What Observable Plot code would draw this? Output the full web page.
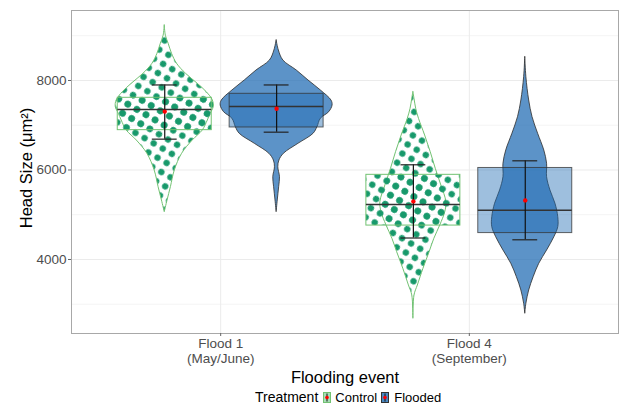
<!DOCTYPE html>
<html><head><meta charset="utf-8">
<script src="https://cdn.jsdelivr.net/npm/d3@7"></script>
<script src="https://cdn.jsdelivr.net/npm/@observablehq/plot@0.6"></script>
<style>
body{margin:0;background:#fff;font-family:"Liberation Sans",Arial,sans-serif;}
#chart svg{display:block;}
#legend{position:relative;height:18px;width:622px;font-size:13px;color:#000;}
#legend .row{position:absolute;left:255px;top:2px;display:flex;align-items:center;white-space:nowrap;line-height:15px;}
#legend svg{display:block;}
</style></head><body>
<div id="chart"></div>
<div id="legend"></div>
<script>
// ---- data ----
const floods = ["Flood 1\n(May/June)", "Flood 4\n(September)"];
const treatments = ["Control", "Flooded"];
const yTicks = [4000, 6000, 8000];
const yMinor = [3000, 5000, 7000, 9000];

// violin outlines: head size (µm²) and relative half-width (density)
const f1ControlSize  = [9229, 9000, 8820, 8597, 8373, 8150, 7926, 7739, 7553, 7404, 7255, 7106, 6883, 6659, 6362, 5989, 5616, 5318, 5057];
const f1ControlWidth = [0, 0.02, 0.07, 0.13, 0.22, 0.38, 0.59, 0.75, 0.86, 0.875, 0.82, 0.77, 0.68, 0.50, 0.31, 0.18, 0.11, 0.05, 0];
const f1FloodedSize  = [8894, 8670, 8447, 8223, 8000, 7777, 7553, 7441, 7292, 7144, 6957, 6809, 6585, 6362, 6212, 6063, 5839, 5616, 5318, 5057];
const f1FloodedWidth = [0, 0.04, 0.12, 0.36, 0.57, 0.79, 0.98, 1, 0.94, 0.79, 0.73, 0.66, 0.39, 0.13, 0.05, 0.03, 0.06, 0.045, 0.02, 0];
const f4ControlSize  = [7739, 7591, 7368, 7144, 6771, 6398, 6027, 5654, 5280, 5057, 4759, 4463, 4163, 3792, 3419, 3196, 2675];
const f4ControlWidth = [0, 0.02, 0.05, 0.10, 0.21, 0.31, 0.40, 0.50, 0.59, 0.57, 0.48, 0.375, 0.29, 0.18, 0.08, 0.02, 0];
const f4FloodedSize  = [8521, 8074, 7553, 7180, 6809, 6436, 6139, 5839, 5542, 5245, 4945, 4722, 4498, 4201, 3904, 3604, 3307, 3010, 2787];
const f4FloodedWidth = [0, 0.02, 0.07, 0.13, 0.23, 0.34, 0.39, 0.39, 0.45, 0.54, 0.59, 0.59, 0.52, 0.39, 0.25, 0.15, 0.07, 0.02, 0];

// box and summary statistics, order: F1 Control, F1 Flooded, F4 Control, F4 Flooded
const boxQ1     = [6890, 6950, 4758, 4590];
const boxMedian = [7352, 7419, 5229, 5100];
const boxQ3     = [7613, 7702, 5892, 6045];
const meanValue = [7305, 7367, 5298, 5320];
const sdLow     = [6689, 6845, 4480, 4440];
const sdHigh    = [7900, 7900, 6116, 6205];

// ---- build tables ----
const dodge = 0.225, boxHalf = 0.189, capHalf = 0.05;
const profiles = [
  [f1ControlSize, f1ControlWidth], [f1FloodedSize, f1FloodedWidth],
  [f4ControlSize, f4ControlWidth], [f4FloodedSize, f4FloodedWidth]
];
const cells = [];
floods.forEach((f, gi) => treatments.forEach((t, ti) => cells.push({flood: f, treatment: t, cx: gi + 1 + (ti === 0 ? -dodge : dodge)})));
const violin = [];
cells.forEach((c, k) => {
  const [s, w] = profiles[k];
  s.forEach((v, i) => violin.push({key: k, treatment: c.treatment, y: v, x1: c.cx - w[i] * dodge, x2: c.cx + w[i] * dodge}));
});
const stats = cells.map((c, k) => ({...c, xl: c.cx - boxHalf, xr: c.cx + boxHalf, cl: c.cx - capHalf, cr: c.cx + capHalf,
  q1: boxQ1[k], median: boxMedian[k], q3: boxQ3[k], mean: meanValue[k], lo: sdLow[k], hi: sdHigh[k]}));
const isC = d => d.treatment === "Control";
const vC = violin.filter(isC), vF = violin.filter(d => !isC(d));
const sC = stats.filter(isC), sF = stats.filter(d => !isC(d));

const green = "#72c272", dotGreen = "#17996b", blue = "#1d6ab3";

const plot = Plot.plot({
  width: 622, height: 388,
  marginLeft: 71, marginRight: 4, marginTop: 10, marginBottom: 55,
  style: {fontFamily: "'Liberation Sans', Arial, sans-serif", background: "#fff"},
  x: {domain: [0.4, 2.6], axis: null},
  y: {domain: [2346, 9564], axis: null},
  marks: [
    Plot.ruleY(yMinor, {stroke: "#f4f4f4", strokeWidth: 1}),
    Plot.ruleY(yTicks, {stroke: "#ebebeb", strokeWidth: 1}),
    Plot.ruleX([1, 2], {stroke: "#ebebeb", strokeWidth: 1}),
    Plot.areaX(vC, {y: "y", x1: "x1", x2: "x2", z: "key", fill: "url(#dots)", stroke: green, strokeWidth: 1, curve: "catmull-rom"}),
    Plot.areaX(vF, {y: "y", x1: "x1", x2: "x2", z: "key", fill: blue, fillOpacity: 0.72, stroke: "#2b2b2b", strokeWidth: 0.8, curve: "catmull-rom"}),
    Plot.rect(sC, {x1: "xl", x2: "xr", y1: "q1", y2: "q3", fill: "url(#dots)", stroke: green, strokeWidth: 1}),
    Plot.rect(sF, {x1: "xl", x2: "xr", y1: "q1", y2: "q3", fill: blue, fillOpacity: 0.43, stroke: "#333", strokeOpacity: 0.75, strokeWidth: 1}),
    Plot.ruleY(stats, {y: "median", x1: "xl", x2: "xr", stroke: "#333", strokeWidth: 1.6}),
    Plot.ruleX(stats, {x: "cx", y1: "lo", y2: "hi", stroke: "#111", strokeWidth: 1.2}),
    Plot.ruleY(stats, {y: "lo", x1: "cl", x2: "cr", stroke: "#222", strokeWidth: 1.2}),
    Plot.ruleY(stats, {y: "hi", x1: "cl", x2: "cr", stroke: "#222", strokeWidth: 1.2}),
    Plot.dot(stats, {x: "cx", y: "mean", r: 2.2, fill: "red", stroke: "none"}),
    Plot.frame({stroke: "#a8a8a8", strokeWidth: 1}),
    Plot.axisY(yTicks, {tickSize: 3, tickPadding: 2, fontSize: 13.5, color: "#4d4d4d", stroke: "#666", label: null, tickFormat: d => String(d)}),
    Plot.axisX([1, 2], {tickSize: 3, tickPadding: 1, fontSize: 13.5, color: "#4d4d4d", stroke: "#666", label: null, lineHeight: 1.12, tickFormat: d => floods[d - 1]}),
    Plot.text(["Head Size (μm²)"], {frameAnchor: "left", dx: -45, dy: -4, rotate: -90, textAnchor: "middle", fontSize: 16.5, fill: "#000"}),
    Plot.text(["Flooding event"], {frameAnchor: "bottom", dy: 49, lineAnchor: "bottom", fontSize: 16.5, fill: "#000"})
  ]
});
const defs = `<defs><pattern id="dots" patternUnits="userSpaceOnUse" width="10.5" height="10.5" patternTransform="rotate(30)"><circle cx="5.25" cy="5.25" r="3.2" fill="${dotGreen}"/></pattern></defs>`;
plot.insertAdjacentHTML("afterbegin", defs);
document.getElementById("chart").appendChild(plot);

// legend
const key = (fill, op, stroke) => `<svg width="8" height="11" viewBox="0 0 8 11"><rect x="0.5" y="0.5" width="7" height="10" fill="${fill}" fill-opacity="${op}" stroke="${stroke}" stroke-width="1"/><line x1="4" x2="4" y1="1.5" y2="9.5" stroke="#111" stroke-width="1"/><circle cx="4" cy="5.5" r="1.8" fill="red"/></svg>`;
document.getElementById("legend").innerHTML = `<div class="row"><span style="font-size:14px;margin-right:5px">Treatment</span>${key("#a7dcb5", 1, green)}<span style="margin:0 4px 0 4px">${treatments[0]}</span>${key(blue, 0.8, "#333")}<span style="margin-left:5px">${treatments[1]}</span></div>`;
</script>
</body></html>
